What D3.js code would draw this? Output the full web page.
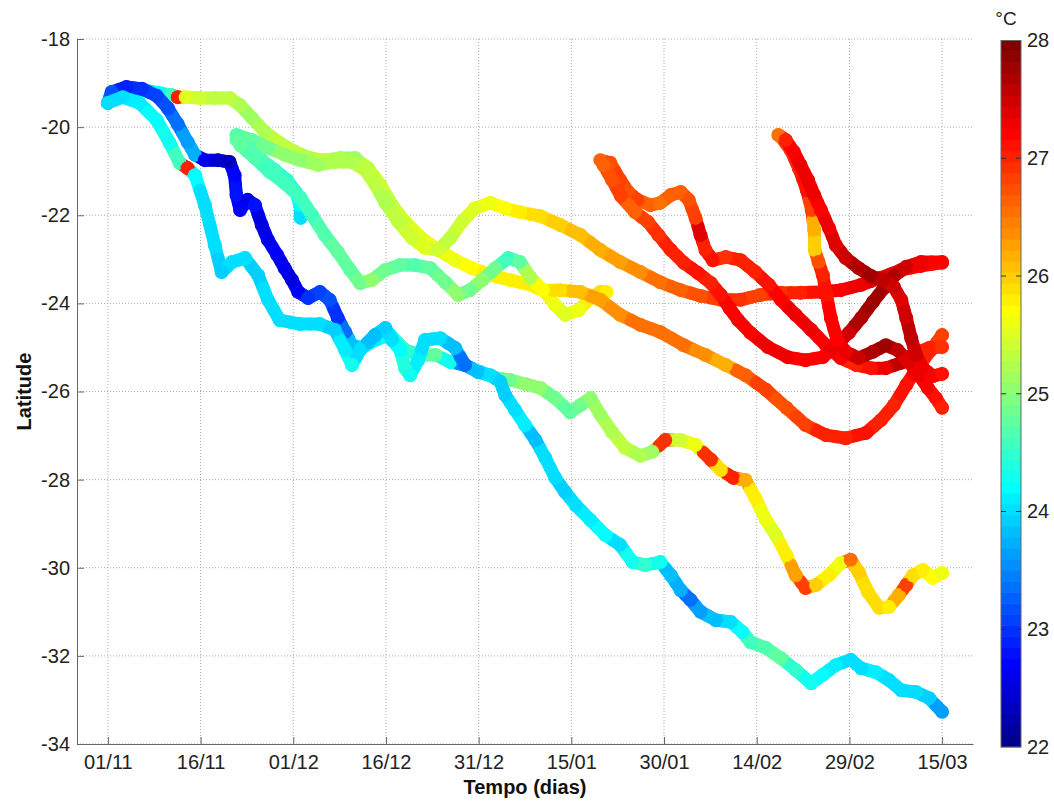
<!DOCTYPE html>
<html>
<head>
<meta charset="utf-8">
<script src="https://cdn.jsdelivr.net/npm/d3@7"></script>
<style>
  body { margin: 0; background: #fff; }
  text { font-family: Arial, "Liberation Sans", sans-serif; }
</style>
</head>
<body>
<svg id="chart" width="1054" height="801"></svg>
<script>
// Drifter records: [days since 01/11, latitude, sea surface temperature °C]
const drifterA = [
  [0.0,-19.45,24.0],[2.4,-19.32,24.0],[5.1,-19.45,24.1],[7.9,-19.84,24.2],[10.0,-20.36,24.3],
  [11.6,-20.81,24.6],[12.9,-20.93,27.0],[14.1,-21.09,24.2],[15.7,-21.77,24.0],[17.3,-22.68,24.0],
  [18.4,-23.29,23.9],[20.1,-23.06,24.0],[22.2,-22.97,24.0],[24.3,-23.36,23.9],[25.9,-23.92,24.0],
  [27.8,-24.38,24.0],[31.1,-24.47,24.0],[34.3,-24.47,24.0],[36.7,-24.60,23.9],[38.4,-25.06,24.1],
  [39.5,-25.40,24.3],[40.8,-25.06,24.0],[43.2,-24.72,23.8],[44.9,-24.56,23.9],[46.0,-24.83,24.0],
  [47.3,-25.06,24.2],[48.1,-25.47,24.4],[48.9,-25.63,24.3],[50.2,-25.29,24.1],[51.3,-24.83,24.0],
  [53.8,-24.79,24.0],[56.2,-25.01,23.8],[57.8,-25.40,23.4],[59.9,-25.56,23.8],[61.9,-25.63,24.0],
  [63.5,-25.78,23.9],[64.3,-26.08,23.9],[65.9,-26.42,24.0],[67.5,-26.76,24.1],[69.2,-27.10,23.8],
  [70.8,-27.51,24.0],[72.4,-27.96,24.0],[74.0,-28.28,23.9],[75.7,-28.58,24.0],[78.1,-28.92,24.1],
  [80.5,-29.26,24.2],[82.9,-29.48,24.0],[84.9,-29.87,24.3],[87.0,-29.94,24.5],[89.4,-29.87,24.3],
  [91.1,-30.17,23.8],[92.7,-30.51,23.7],[94.3,-30.73,23.4],[95.9,-31.00,23.6],[98.4,-31.19,23.8],
  [100.8,-31.23,24.0],[102.7,-31.46,24.2],[104.0,-31.69,24.6],[106.5,-31.82,24.7],[108.9,-32.05,24.8],
  [111.3,-32.32,24.5],[113.8,-32.62,24.3],[115.7,-32.43,24.2],[117.8,-32.21,24.1],[120.2,-32.09,24.0],
  [121.9,-32.28,24.0],[124.3,-32.37,24.1],[126.4,-32.55,24.0],[128.4,-32.78,24.0],[130.8,-32.82,24.0],
  [132.9,-32.96,23.9],[135.0,-33.27,23.6]
];

const drifterB = [
  [0.0,-19.45,23.6],[0.6,-19.20,23.2],[3.0,-19.09,22.9],[5.5,-19.13,23.0],[7.9,-19.29,23.1],
  [9.7,-19.57,23.2],[11.3,-19.93,23.4],[12.9,-20.34,23.6],[14.1,-20.63,23.7],[15.7,-20.75,22.6],
  [17.8,-20.75,22.4],[19.7,-20.79,22.3],[20.5,-21.09,22.7],[20.8,-21.54,22.8],[21.4,-21.88,22.7],
  [22.6,-21.65,22.6],[23.8,-21.77,22.8],[24.9,-22.22,22.5],[25.9,-22.56,22.6],[27.4,-22.90,22.7],
  [28.6,-23.20,22.6],[29.8,-23.47,22.5],[30.8,-23.74,22.7],[32.4,-23.88,23.0],[34.3,-23.74,23.1],
  [35.9,-23.92,23.2],[37.2,-24.33,23.0],[38.4,-24.65,23.4],[39.5,-24.95,23.8],[41.1,-25.01,24.0],
  [43.2,-24.83,24.1],[45.7,-24.72,24.3],[48.1,-25.06,24.5],[50.5,-25.17,24.5],[53.0,-25.17,24.8],
  [55.4,-25.33,24.3],[57.8,-25.40,23.5],[60.3,-25.56,24.2],[62.7,-25.69,24.6],[65.1,-25.74,24.9],
  [67.5,-25.83,25.0],[70.0,-25.92,25.0],[72.4,-26.15,24.9],[74.8,-26.47,24.8],[76.5,-26.31,24.9],
  [78.1,-26.15,25.0],[79.7,-26.53,25.1],[81.6,-26.92,25.2],[83.7,-27.28,25.3],[86.2,-27.46,25.2],
  [88.1,-27.37,25.1],[90.2,-27.10,26.9],[92.7,-27.10,25.4],[95.1,-27.21,25.6],[97.6,-27.55,26.9],
  [99.2,-27.78,25.9],[101.2,-27.96,27.0],[103.2,-28.01,26.2],[104.8,-28.42,25.8],[106.5,-28.92,25.6],
  [108.1,-29.26,25.5],[109.8,-29.71,25.8],[111.3,-30.17,26.3],[112.9,-30.46,26.8],[114.6,-30.39,26.0],
  [116.7,-30.17,25.8],[118.6,-29.89,25.6],[120.2,-29.82,26.5],[121.5,-30.10,26.0],[123.0,-30.55,25.9],
  [124.8,-30.91,25.9],[126.4,-30.89,25.8],[128.0,-30.62,26.2],[129.2,-30.39,26.8],[130.3,-30.17,25.9],
  [131.9,-30.05,25.8],[133.5,-30.23,25.7],[135.0,-30.12,25.6]
];

const drifterC = [
  [0.0,-19.45,23.8],[1.6,-19.20,23.6],[3.5,-19.11,23.5],[5.9,-19.16,23.8],[8.4,-19.23,24.2],
  [10.3,-19.27,24.6],[11.3,-19.32,27.0],[12.6,-19.32,25.5],[14.9,-19.34,25.4],[17.3,-19.34,25.3],
  [19.7,-19.34,25.3],[21.4,-19.50,25.2],[23.3,-19.79,25.1],[25.4,-20.11,25.2],[27.8,-20.36,25.3],
  [30.3,-20.56,25.3],[32.7,-20.70,25.2],[35.1,-20.75,25.3],[37.6,-20.70,25.2],[40.0,-20.70,25.1],
  [42.1,-20.93,25.3],[44.1,-21.31,25.4],[46.0,-21.77,25.3],[48.1,-22.15,25.4],[50.5,-22.49,25.5],
  [53.5,-22.79,25.6],[56.2,-23.02,25.6],[58.9,-23.20,25.7],[61.9,-23.36,25.8],[65.1,-23.47,25.8],
  [68.4,-23.58,25.8],[70.8,-23.74,25.8],[72.4,-24.04,25.6],[74.0,-24.26,25.5],[76.2,-24.15,25.6],
  [78.1,-23.88,25.8],[79.7,-23.74,25.9],[80.7,-23.74,25.8]
];

const drifterD = [
  [20.8,-20.18,24.7],[23.3,-20.29,24.8],[25.9,-20.47,24.9],[28.6,-20.63,25.0],[31.1,-20.75,25.0],
  [34.0,-20.86,25.1],[36.7,-20.79,25.2],[39.5,-20.79,25.2],[41.6,-20.97,25.3],[43.3,-21.31,25.3],
  [44.9,-21.72,25.2],[47.0,-22.15,25.3],[49.2,-22.52,25.4],[51.3,-22.74,25.5],[53.5,-22.79,25.4],
  [55.4,-22.52,25.3],[57.3,-22.15,25.4],[59.4,-21.84,25.5],[61.9,-21.72,25.6],[64.3,-21.84,25.7],
  [66.7,-21.93,25.8],[70.0,-22.02,25.9],[73.2,-22.22,26.0],[76.5,-22.45,26.1],[79.7,-22.79,26.2],
  [82.9,-23.06,26.3],[86.2,-23.29,26.4],[89.4,-23.52,26.5],[92.7,-23.70,26.6],[95.9,-23.83,26.7],
  [99.2,-23.92,26.8],[102.4,-23.92,26.9],[105.6,-23.81,26.8],[108.9,-23.76,26.9],[112.1,-23.76,27.0],
  [115.4,-23.74,27.1],[118.6,-23.70,27.2],[121.9,-23.58,27.3],[125.1,-23.42,27.4],[128.4,-23.24,27.3],
  [131.6,-23.15,27.2],[135.0,-23.08,27.1]
];

const drifterE = [
  [20.8,-20.29,24.8],[23.0,-20.52,24.7],[24.9,-20.75,24.7],[27.0,-20.97,24.6],[29.0,-21.20,24.5],
  [30.4,-21.47,24.4],[31.1,-21.77,24.2],[31.2,-22.06,24.0]
];

const drifterF = [
  [21.4,-20.41,24.8],[23.8,-20.70,24.7],[26.2,-21.02,24.6],[28.6,-21.27,24.6],[31.1,-21.59,24.6],
  [33.0,-21.99,24.6],[35.1,-22.45,24.7],[37.2,-22.83,24.8],[39.2,-23.24,24.8],[40.8,-23.54,24.9],
  [42.7,-23.47,25.0],[44.9,-23.24,24.9],[47.3,-23.13,24.8],[49.7,-23.13,24.7],[52.2,-23.20,24.8],
  [54.6,-23.52,24.9],[56.7,-23.81,25.0],[58.6,-23.70,24.9],[60.6,-23.47,25.0],[62.7,-23.20,24.9],
  [64.8,-22.97,24.6],[66.7,-23.06,24.8],[68.4,-23.42,25.2],[70.4,-23.70,25.7],[73.2,-23.70,25.9],
  [76.5,-23.74,26.1],[79.7,-23.92,26.3],[82.9,-24.26,26.4],[86.2,-24.49,26.5],[89.4,-24.65,26.5],
  [93.2,-24.95,26.5],[96.7,-25.17,26.4],[100.0,-25.40,26.2],[103.2,-25.63,26.6],[106.5,-25.96,26.8],
  [109.8,-26.37,26.7],[112.9,-26.76,26.8],[116.2,-26.99,27.0],[119.4,-27.06,27.0],[122.7,-26.94,27.1],
  [125.1,-26.65,27.0],[127.2,-26.31,27.0],[129.2,-25.85,27.1],[131.3,-25.40,27.2],[133.2,-25.06,27.0],
  [135.0,-24.72,26.8]
];

const drifterG = [
  [79.7,-20.75,26.6],[81.3,-20.81,26.7],[82.9,-21.20,26.8],[84.2,-21.47,26.7],[85.7,-21.65,26.8],
  [87.8,-21.77,26.6],[89.4,-21.72,26.5],[91.1,-21.54,26.6],[92.7,-21.47,26.6],[94.0,-21.65,26.7],
  [95.1,-22.06,26.8],[95.9,-22.45,27.4],[96.7,-22.79,27.0],[97.9,-23.02,27.1],[100.0,-22.95,26.9],
  [102.4,-23.02,27.0],[104.8,-23.29,27.0],[107.0,-23.58,27.1],[108.9,-23.92,27.2],[111.3,-24.26,27.3],
  [113.8,-24.60,27.3],[116.2,-24.95,27.2],[118.6,-25.24,27.2],[121.1,-25.40,27.0],[123.5,-25.47,27.1],
  [125.9,-25.47,27.3],[128.4,-25.35,27.6],[130.5,-25.13,27.3],[132.9,-25.01,27.0],[135.0,-24.99,26.9]
];

const drifterH = [
  [80.2,-20.86,26.6],[81.6,-21.20,26.7],[83.0,-21.56,26.8],[85.3,-21.93,26.6],[87.4,-22.15,26.8],
  [89.1,-22.45,26.9],[91.1,-22.79,27.0],[93.2,-23.08,27.0],[95.5,-23.31,27.1],[97.6,-23.54,27.0],
  [99.2,-23.81,27.1],[100.6,-24.11,27.2],[102.0,-24.38,27.2],[104.0,-24.67,27.2],[106.8,-24.99,27.3],
  [110.0,-25.22,27.3],[112.9,-25.29,27.2],[115.7,-25.22,27.2],[117.8,-24.95,27.3],[119.9,-24.67,27.5],
  [121.9,-24.33,27.7],[123.8,-23.97,27.8],[125.6,-23.65,27.8],[127.2,-23.38,27.7],[129.2,-23.17,27.5],
  [131.6,-23.06,27.3],[135.0,-23.06,27.2]
];

const drifterI = [
  [108.5,-20.18,26.5],[109.7,-20.29,27.0],[111.0,-20.56,27.2],[112.1,-20.86,27.3],[113.3,-21.20,27.3],
  [114.3,-21.54,27.3],[115.4,-21.88,27.2],[116.7,-22.29,27.3],[117.8,-22.68,27.4],[119.4,-22.97,27.5],
  [121.5,-23.20,27.7],[123.5,-23.38,27.8],[125.4,-23.47,27.6],[127.2,-23.63,27.5],[128.4,-23.92,27.4],
  [129.2,-24.33,27.5],[130.0,-24.79,27.6],[130.8,-25.17,27.5],[131.9,-25.47,27.3],[133.5,-25.65,27.2],
  [135.0,-25.60,27.1]
];

const drifterJ = [
  [108.9,-20.22,26.6],[110.5,-20.52,26.9],[111.8,-20.93,27.0],[113.1,-21.43,27.1],[113.9,-21.88,26.8],
  [114.3,-22.33,26.2],[114.4,-22.79,26.0],[115.0,-23.06,26.7],[115.7,-23.36,27.0],[116.3,-23.81,27.1],
  [117.0,-24.33,27.2],[118.0,-24.83,27.2],[119.4,-25.10,27.3],[121.5,-25.24,27.5],[123.8,-25.10,27.7],
  [125.9,-24.95,27.8],[127.8,-25.06,27.6],[129.6,-25.33,27.4],[131.3,-25.63,27.3],[132.7,-25.92,27.2],
  [134.0,-26.15,27.1],[135.0,-26.37,27.0]
];

const tickDays   = [0, 15, 30, 45, 60, 75, 90, 105, 120, 135];
const tickLabels = ["01/11","16/11","01/12","16/12","31/12","15/01","30/01","14/02","29/02","15/03"];
const latTicks   = [-34, -32, -30, -28, -26, -24, -22, -20, -18];
const tempTicks  = [22, 23, 24, 25, 26, 27, 28];

const tracks = [drifterC, drifterD, drifterE, drifterF, drifterB, drifterA,
                drifterG, drifterH, drifterJ, drifterI];

const svg = d3.select("#chart");
const plot = { left: 77, right: 973, top: 39, bottom: 744 };

const x = d3.scaleLinear().domain([-5, 140]).range([plot.left, plot.right]);
const y = d3.scaleLinear().domain([-34, -18]).range([plot.bottom, plot.top]);

// 64-step jet colormap
const nColors = 64;
const jetMap = (() => {
  const n = Math.ceil(nColors / 4);
  const u = [];
  for (let i = 1; i <= n; i++) u.push(i / n);
  for (let i = 0; i < n - 1; i++) u.push(1);
  for (let i = n; i >= 1; i--) u.push(i / n);
  const gOff = Math.ceil(n / 2) - (nColors % 4 === 1 ? 1 : 0);
  const cols = [];
  for (let k = 1; k <= nColors; k++) {
    const gi = k - gOff, ri = gi - n, bi = gi + n;
    const pick = idx => (idx >= 1 && idx <= u.length) ? u[idx - 1] : 0;
    cols.push(d3.rgb(255 * pick(ri), 255 * pick(gi), 255 * pick(bi)).formatHex());
  }
  return cols;
})();
const tNorm = d3.scaleLinear().domain([22, 28]).range([0, 1]).clamp(true);
const colorOf = t => jetMap[Math.min(nColors - 1, Math.floor(tNorm(t) * nColors))];

// grid
const grid = svg.append("g");
grid.selectAll(".gx").data(tickDays).join("line")
  .attr("x1", d => x(d)).attr("x2", d => x(d))
  .attr("y1", plot.top).attr("y2", plot.bottom)
  .attr("stroke", "#aaa").attr("stroke-width", 1).attr("stroke-dasharray", "1,2");
grid.selectAll(".gy").data(latTicks).join("line")
  .attr("x1", plot.left).attr("x2", plot.right)
  .attr("y1", d => y(d)).attr("y2", d => y(d))
  .attr("stroke", "#aaa").attr("stroke-width", 1).attr("stroke-dasharray", "1,2");

// drifter tracks: thick segments split at midpoints, then markers
const marks = svg.append("g");
tracks.forEach(tr => {
  const pts = tr.map(d => ({ px: x(d[0]), py: y(d[1]), c: colorOf(d[2]) }));
  const segs = [];
  for (let i = 0; i < pts.length - 1; i++) {
    const a = pts[i], b = pts[i + 1];
    const mx = (a.px + b.px) / 2, my = (a.py + b.py) / 2;
    segs.push({ x1: a.px, y1: a.py, x2: mx, y2: my, c: a.c });
    segs.push({ x1: mx, y1: my, x2: b.px, y2: b.py, c: b.c });
  }
  const g = marks.append("g");
  g.selectAll("line").data(segs).join("line")
    .attr("x1", d => d.x1).attr("y1", d => d.y1)
    .attr("x2", d => d.x2).attr("y2", d => d.y2)
    .attr("stroke", d => d.c).attr("stroke-width", 13).attr("stroke-linecap", "round");
  g.selectAll("circle").data(pts).join("circle")
    .attr("cx", d => d.px).attr("cy", d => d.py).attr("r", 7)
    .attr("fill", d => d.c);
});

// axes
const axisColor = "#666";
const xAxis = svg.append("g").attr("transform", `translate(0,${plot.bottom})`)
  .call(d3.axisBottom(x).tickValues(tickDays).tickFormat((d, i) => tickLabels[i])
    .tickSizeInner(-7).tickSizeOuter(0).tickPadding(11));
const yAxis = svg.append("g").attr("transform", `translate(${plot.left},0)`)
  .call(d3.axisLeft(y).tickValues(latTicks).tickFormat(d => String(d))
    .tickSizeInner(-7).tickSizeOuter(0).tickPadding(7));
[xAxis, yAxis].forEach(a => {
  a.select(".domain").attr("stroke", axisColor);
  a.selectAll(".tick line").attr("stroke", axisColor);
  a.selectAll("text").attr("fill", "#222").style("font-size", "20px")
    .style("font-family", "Arial, 'Liberation Sans', sans-serif");
});

svg.append("text").attr("x", (plot.left + plot.right) / 2).attr("y", 794)
  .attr("text-anchor", "middle").attr("font-weight", "bold").attr("font-size", 20)
  .attr("fill", "#111").text("Tempo (dias)");
svg.append("text").attr("transform", `translate(31,${(plot.top + plot.bottom) / 2}) rotate(-90)`)
  .attr("text-anchor", "middle").attr("font-weight", "bold").attr("font-size", 20)
  .attr("fill", "#111").text("Latitude");

// colorbar
const cb = { x: 1001, w: 20, top: 40.5, bottom: 747 };
const cy = d3.scaleLinear().domain([22, 28]).range([cb.bottom, cb.top]);
const bandH = (cb.bottom - cb.top) / nColors;
const cbar = svg.append("g");
cbar.selectAll("rect").data(jetMap).join("rect")
  .attr("x", cb.x).attr("width", cb.w)
  .attr("y", (d, i) => cb.bottom - (i + 1) * bandH - 0.3).attr("height", bandH + 0.6)
  .attr("fill", d => d);
cbar.append("rect").attr("x", cb.x).attr("y", cb.top).attr("width", cb.w)
  .attr("height", cb.bottom - cb.top).attr("fill", "none").attr("stroke", "#666").attr("stroke-width", 1);
cbar.selectAll(".tl").data(tempTicks.slice(1, -1)).join("line")
  .attr("x1", cb.x).attr("x2", cb.x + 5).attr("y1", d => cy(d)).attr("y2", d => cy(d))
  .attr("stroke", "#333");
cbar.selectAll(".tr").data(tempTicks.slice(1, -1)).join("line")
  .attr("x1", cb.x + cb.w - 5).attr("x2", cb.x + cb.w).attr("y1", d => cy(d)).attr("y2", d => cy(d))
  .attr("stroke", "#333");
const cAxis = svg.append("g").attr("transform", `translate(${cb.x + cb.w},0)`)
  .call(d3.axisRight(cy).tickValues(tempTicks).tickFormat(d => String(d)).tickSize(0).tickPadding(6));
cAxis.select(".domain").remove();
cAxis.selectAll("text").attr("fill", "#222").style("font-size", "20px")
  .style("font-family", "Arial, 'Liberation Sans', sans-serif");
svg.append("text").attr("x", 1006).attr("y", 25).attr("text-anchor", "middle")
  .attr("font-size", 19).attr("fill", "#222").text("°C");
</script>
</body>
</html>
